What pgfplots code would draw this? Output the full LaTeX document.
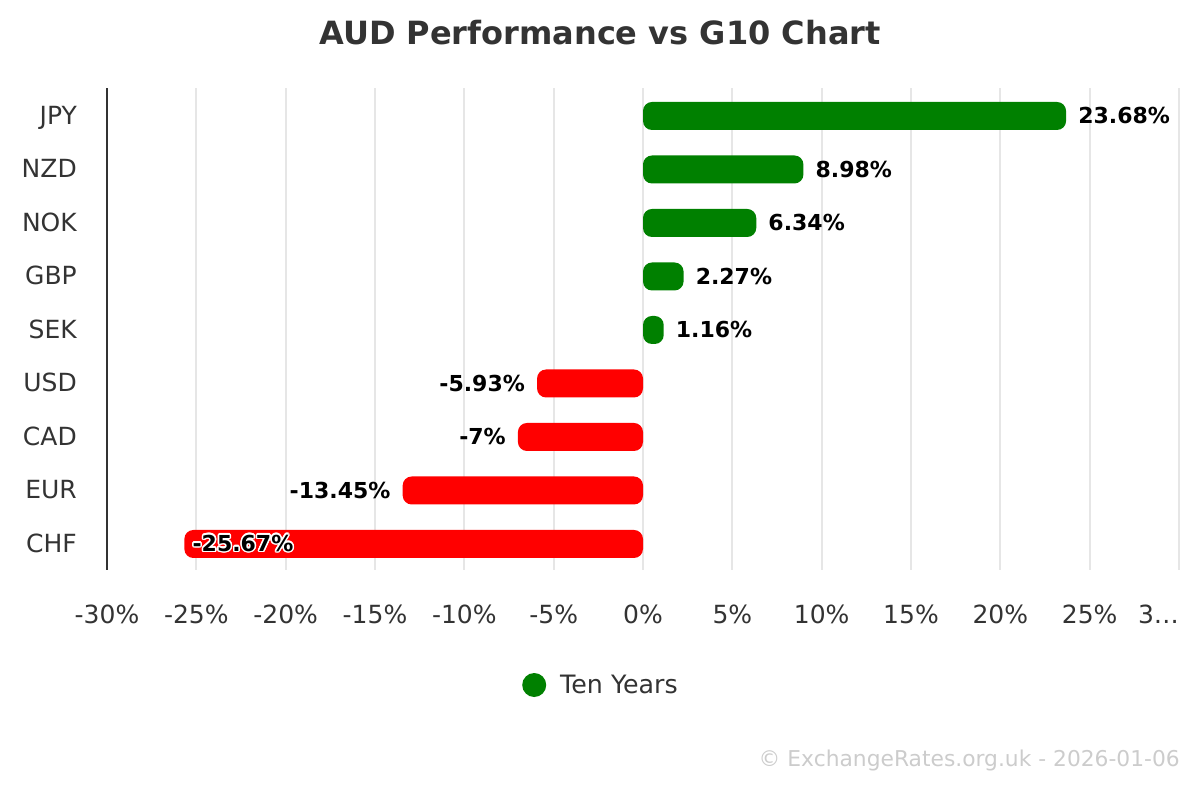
\documentclass[border=0pt]{standalone}
\usepackage{pgfplots}
\pgfplotsset{compat=1.18}
\usepackage{fontspec}
\setmainfont{DejaVu Sans}
\usepackage{contour}
\contourlength{1.5pt}
\definecolor{ctxt}{HTML}{333333}
\definecolor{cgrid}{HTML}{E6E6E6}
\definecolor{cpos}{HTML}{008000}
\definecolor{cneg}{HTML}{FF0000}
\definecolor{cwm}{HTML}{CCCCCC}

\begin{document}
\begin{tikzpicture}[x=1pt,y=1pt]
\path[use as bounding box] (0,0) rectangle (1200,800);
\node[anchor=base, inner sep=0pt, font=\fontsize{32}{36}\selectfont\bfseries, text=ctxt]
  at (600,755) {AUD Performance vs G10 Chart};
\node[anchor=base east, inner sep=0pt, font=\fontsize{21.8}{26}\selectfont, text=cwm]
  at (1180,33) {© ExchangeRates.org.uk - 2026-01-06};
\begin{axis}[
  at={(107pt,230pt)}, anchor=south west,
  scale only axis, width=1072pt, height=482pt,
  xbar, bar width=28pt, bar shift=0pt,
  xmin=-30, xmax=30, ymin=-0.486, ymax=8.523,
  axis x line*=bottom, axis y line*=left,
  axis line style={-},
  x axis line style={draw=none},
  y axis line style={draw=ctxt, line width=2pt},
  major tick length=0pt,
  xtick={-30,-25,-20,-15,-10,-5,0,5,10,15,20,25,30},
  xticklabels={-30\%,-25\%,-20\%,-15\%,-10\%,-5\%,0\%,5\%,10\%,15\%,20\%,25\%,\makebox[0pt][r]{3…}},
  ytick={0,1,2,3,4,5,6,7,8},
  yticklabels={CHF,EUR,CAD,USD,SEK,GBP,NOK,NZD,JPY},
  xticklabel style={anchor=base, inner sep=0pt, yshift=-54pt,
    font=\fontsize{25}{29}\selectfont, text=ctxt},
  yticklabel style={anchor=base east, inner sep=0pt, xshift=-30pt, yshift=-8.5pt,
    font=\fontsize{25}{29}\selectfont, text=ctxt},
  xmajorgrids, grid style={draw=cgrid, line width=2pt},
  point meta=explicit symbolic,
  nodes near coords={\pgfplotspointmeta},
  nodes near coords style={font=\fontsize{22}{26}\selectfont\bfseries, text=black, inner sep=0pt},
  legend style={at={(0.4599,-0.2386)}, anchor=center, draw=none, fill=none,
    font=\fontsize{25.3}{29}\selectfont, text=ctxt, nodes={inner sep=0pt},
    /tikz/every odd column/.append style={column sep=14pt}},
  legend image code/.code={\fill[cpos] (12pt,0pt) circle (12pt);},
]
\addplot[fill=cpos, draw=none, rounded corners=9pt,
  nodes near coords style={anchor=west, xshift=12pt}]
  coordinates {(23.68,8) [23.68\%] (8.98,7) [8.98\%] (6.34,6) [6.34\%]
               (2.27,5) [2.27\%] (1.16,4) [1.16\%]};
\addlegendentry{Ten Years}
\addplot[fill=cneg, draw=none, rounded corners=9pt, forget plot,
  nodes near coords style={anchor=east, xshift=-12pt}]
  coordinates {(-5.93,3) [-5.93\%] (-7,2) [-7\%] (-13.45,1) [-13.45\%]};
\addplot[fill=cneg, draw=none, rounded corners=9pt, forget plot,
  nodes near coords={\contour{white}{\pgfplotspointmeta}},
  nodes near coords style={anchor=west, xshift=8pt}]
  coordinates {(-25.67,0) [-25.67\%]};
\end{axis}
\end{tikzpicture}
\end{document}
